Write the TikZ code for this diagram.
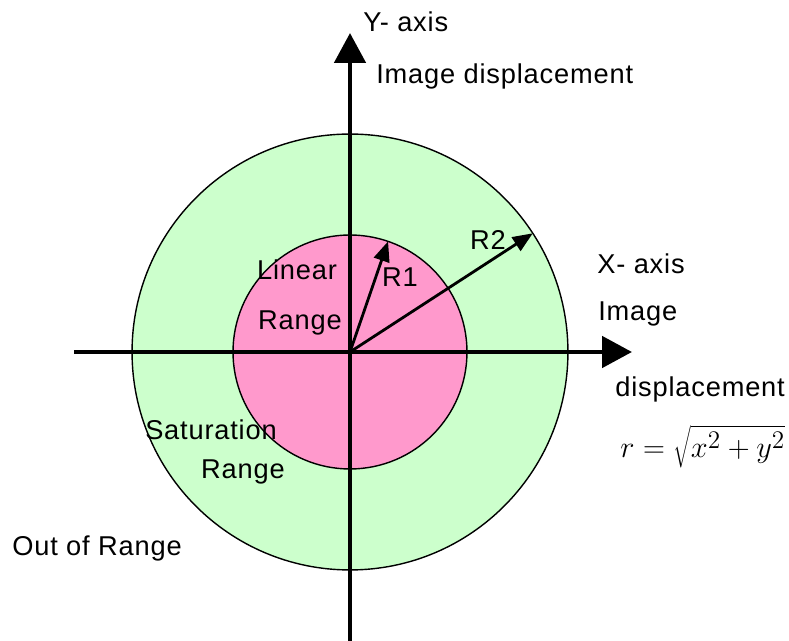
\documentclass[tikz,border=0pt]{standalone}
\usepackage{fontspec}
\setmainfont{Liberation Sans}[LetterSpace=3]
\usetikzlibrary{arrows.meta,positioning}
\definecolor{satgreen}{RGB}{204,255,204}
\definecolor{linpink}{RGB}{255,153,204}

\begin{document}
\begin{tikzpicture}[
    x=0.02cm, y=-0.02cm,
    zone/.style={circle, draw=black, line width=0.8pt, inner sep=0pt, outer sep=0pt},
    axis/.style={-{Triangle[length=0.6cm,width=0.62cm]}, line width=2.8pt},
    radarrow/.style={-{Triangle[length=0.4cm,width=0.32cm]}, line width=1.6pt},
    label/.style={font=\fontsize{15.5}{18}\selectfont, inner sep=0pt}
]
\useasboundingbox (0,0) rectangle (789,641);

% Ranges
\coordinate (o) at (350,352);
\node[zone, fill=satgreen, minimum size=8.72cm] (outer) at (o) {};
\node[zone, fill=linpink, minimum size=4.68cm] (inner) at (o) {};

% Axes
\coordinate (xstart) at (74,352);
\coordinate (xend) at (632,352);
\coordinate (ystart) at (350,641);
\coordinate (yend) at (350,33);
\draw[axis] (xstart) -- (xend);
\draw[axis] (ystart) -- (yend);

% Radii
\draw[radarrow] (o) -- (inner.71);
\draw[radarrow] (o) -- (outer.33);
\node[label] (r1) at (400,277) {R1};
\node[label] (r2) at (488,240) {R2};

% Axis labels
\node[label, anchor=west] (ylab) at (363,22) {Y- axis};
\node[label, anchor=west] (ydisp) at (376,76) {Image displacement};
\node[label, anchor=west] (xlab) at (597,264) {X- axis};
\node[label, anchor=west] (ximg) at (598,314) {Image};
\node[label, anchor=west] (xdisp) at (615,389) {displacement};
\node[label, anchor=west, font=\fontsize{19}{22}\selectfont] (formula) at (620,447) {$r=\sqrt{x^2+y^2}$};

% Range labels
\node[label] (lin) at (297,270) {Linear};
\node[label] (linr) at (300,323) {Range};
\node[label] (sat) at (211,430) {Saturation};
\node[label] (satr) at (243,472) {Range};
\node[label, anchor=west] (out) at (12,548) {Out of Range};

\end{tikzpicture}
\end{document}
